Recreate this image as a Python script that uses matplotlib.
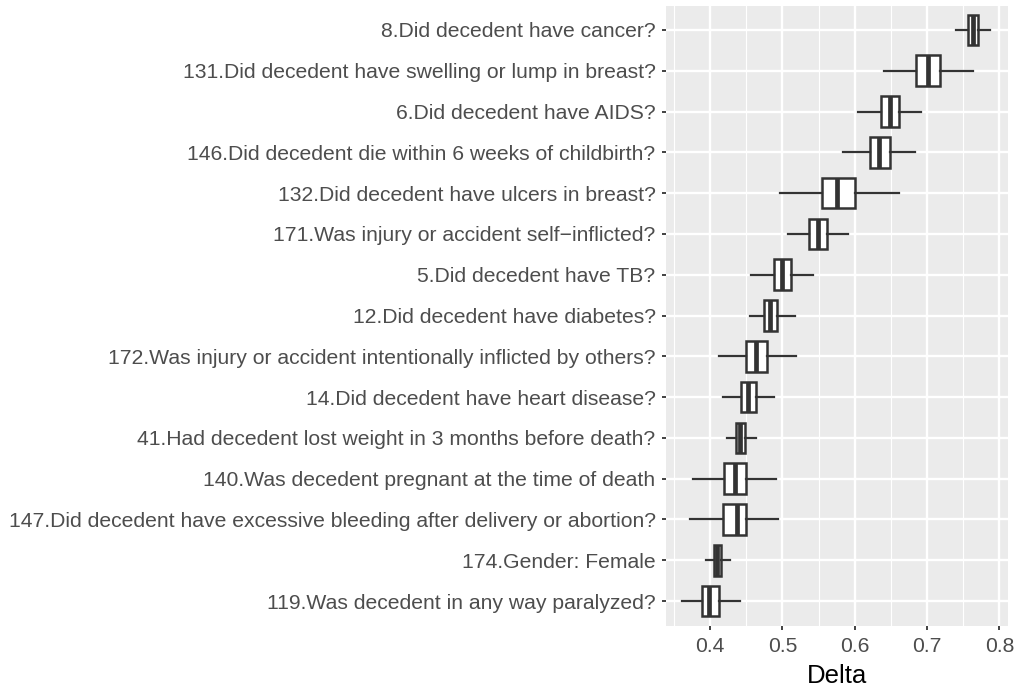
import matplotlib
matplotlib.use("Agg")
import matplotlib.pyplot as plt

questions = [
    "8.Did decedent have cancer?",
    "131.Did decedent have swelling or lump in breast?",
    "6.Did decedent have AIDS?",
    "146.Did decedent die within 6 weeks of childbirth?",
    "132.Did decedent have ulcers in breast?",
    "171.Was injury or accident self\u2212inflicted?",
    "5.Did decedent have TB?",
    "12.Did decedent have diabetes?",
    "172.Was injury or accident intentionally inflicted by others?",
    "14.Did decedent have heart disease?",
    "41.Had decedent lost weight in 3 months before death?",
    "140.Was decedent pregnant at the time of death",
    "147.Did decedent have excessive bleeding after delivery or abortion?",
    "174.Gender: Female",
    "119.Was decedent in any way paralyzed?",
]
whisker_low = [0.740, 0.641, 0.604, 0.584, 0.496, 0.508, 0.457, 0.455, 0.412, 0.418, 0.423, 0.376, 0.372, 0.394, 0.361]
q1          = [0.756, 0.685, 0.636, 0.621, 0.555, 0.537, 0.488, 0.474, 0.450, 0.443, 0.436, 0.419, 0.418, 0.405, 0.389]
median      = [0.763, 0.701, 0.649, 0.634, 0.576, 0.549, 0.499, 0.483, 0.463, 0.453, 0.442, 0.434, 0.437, 0.410, 0.399]
q3          = [0.770, 0.718, 0.661, 0.649, 0.601, 0.561, 0.512, 0.493, 0.479, 0.463, 0.448, 0.449, 0.450, 0.415, 0.412]
whisker_high= [0.787, 0.763, 0.692, 0.684, 0.661, 0.591, 0.542, 0.517, 0.519, 0.488, 0.464, 0.491, 0.494, 0.427, 0.442]
x_ticks = [0.4, 0.5, 0.6, 0.7, 0.8]
x_minor = [0.35, 0.45, 0.55, 0.65, 0.75]

plt.rcParams['font.family'] = ['Liberation Sans', 'DejaVu Sans']

fig = plt.figure(figsize=(10.17, 6.9), dpi=100)
ax = fig.add_axes([666/1017, 1 - 625.5/690, (1008-666)/1017, (625.5-5.5)/690])
ax.set_facecolor('#EBEBEB')

n = len(questions)
stats = []
for i in range(n):
    stats.append(dict(whislo=whisker_low[i], q1=q1[i], med=median[i], q3=q3[i],
                      whishi=whisker_high[i], fliers=[], label=questions[i]))
positions = list(range(n))
edge = '#333333'
ax.bxp(stats, positions=positions, vert=False, widths=0.75, patch_artist=True,
       showcaps=False, showfliers=False,
       boxprops=dict(facecolor='white', edgecolor=edge, linewidth=1.8),
       medianprops=dict(color=edge, linewidth=3.4, solid_capstyle='butt'),
       whiskerprops=dict(color=edge, linewidth=1.6),
       zorder=3)

ax.set_ylim(n - 1 + 0.6, -0.6)
ax.set_xlim(0.339, 0.812)
ax.set_yticks(positions)
ax.set_yticklabels(questions)
ax.set_xticks(x_ticks)
ax.set_xticklabels([f"{t:.1f}" for t in x_ticks])
ax.set_xticks(x_minor, minor=True)

ax.grid(True, which='major', color='white', linewidth=1.7, zorder=0)
ax.grid(True, which='minor', axis='x', color='white', linewidth=0.85, zorder=0)
ax.set_axisbelow(True)
for s in ax.spines.values():
    s.set_visible(False)

ax.tick_params(axis='both', which='major', length=3.0, width=1.3, color='#333333',
               labelcolor='#4D4D4D', labelsize=15.2)
ax.tick_params(axis='y', pad=4.5)
ax.tick_params(axis='x', pad=5)
ax.tick_params(which='minor', length=0)

ax.set_xlabel('Delta', fontsize=18.5, color='black', labelpad=6)

fig.savefig('out.png', dpi=100)
